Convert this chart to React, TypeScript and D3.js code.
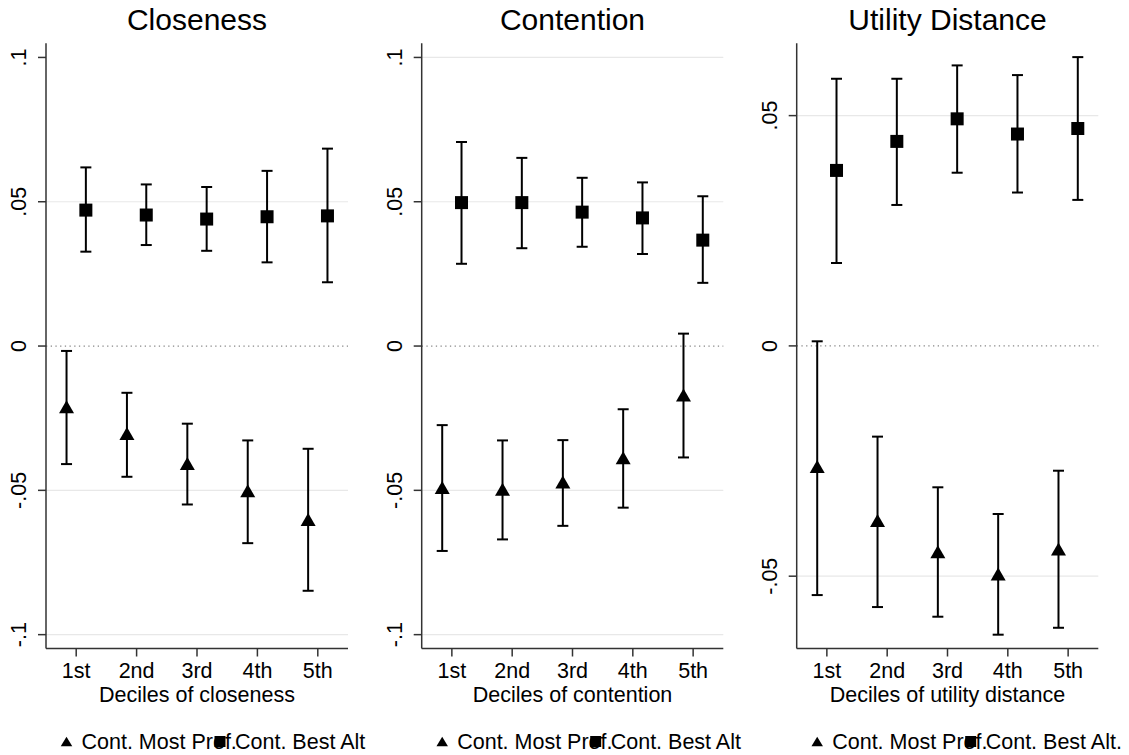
import React from "react";
import * as d3 from "d3";

const deciles = ["1st", "2nd", "3rd", "4th", "5th"];

const closenessMostPref = [-0.021, -0.0303, -0.0407, -0.0501, -0.0601];
const closenessMostPrefLo = [-0.0409, -0.0453, -0.0549, -0.0683, -0.0848];
const closenessMostPrefHi = [-0.0017, -0.0162, -0.0269, -0.0327, -0.0356];
const closenessBestAlt = [0.0471, 0.0454, 0.044, 0.0448, 0.0451];
const closenessBestAltLo = [0.0327, 0.035, 0.033, 0.029, 0.0221];
const closenessBestAltHi = [0.0619, 0.056, 0.0551, 0.0607, 0.0684];

const contentionMostPref = [-0.049, -0.0496, -0.0471, -0.0387, -0.017];
const contentionMostPrefLo = [-0.071, -0.067, -0.0623, -0.056, -0.0386];
const contentionMostPrefHi = [-0.0274, -0.0327, -0.0326, -0.0219, 0.0043];
const contentionBestAlt = [0.0497, 0.0497, 0.0464, 0.0444, 0.0367];
const contentionBestAltLo = [0.0285, 0.0339, 0.0344, 0.0319, 0.0219];
const contentionBestAltHi = [0.0707, 0.0652, 0.0583, 0.0567, 0.0519];

const utilityMostPref = [-0.0262, -0.0379, -0.0447, -0.0495, -0.0441];
const utilityMostPrefLo = [-0.0541, -0.0567, -0.0588, -0.0627, -0.0612];
const utilityMostPrefHi = [0.001, -0.0197, -0.0307, -0.0365, -0.0271];
const utilityBestAlt = [0.0381, 0.0444, 0.0493, 0.046, 0.0472];
const utilityBestAltLo = [0.018, 0.0306, 0.0376, 0.0333, 0.0317];
const utilityBestAltHi = [0.058, 0.058, 0.0609, 0.0588, 0.0627];

const ticksWide = [-0.1, -0.05, 0, 0.05, 0.1];
const ticksNarrow = [-0.05, 0, 0.05];
const tickLabel = (v: number) =>
  v === 0 ? "0" : v === 0.1 ? ".1" : v === -0.1 ? "-.1" : v === 0.05 ? ".05" : "-.05";

const panels = [
  {
    title: "Closeness",
    xTitle: "Deciles of closeness",
    left: 46, right: 348,
    yDomain: [-0.1048, 0.1049],
    yTicks: ticksWide,
    gridSkip: [0.1],
    mp: closenessMostPref, mpLo: closenessMostPrefLo, mpHi: closenessMostPrefHi,
    ba: closenessBestAlt, baLo: closenessBestAltLo, baHi: closenessBestAltHi,
    legend2: "Cont. Best Alt",
  },
  {
    title: "Contention",
    xTitle: "Deciles of contention",
    left: 421.7, right: 723.3,
    yDomain: [-0.1048, 0.1049],
    yTicks: ticksWide,
    gridSkip: [] as number[],
    mp: contentionMostPref, mpLo: contentionMostPrefLo, mpHi: contentionMostPrefHi,
    ba: contentionBestAlt, baLo: contentionBestAltLo, baHi: contentionBestAltHi,
    legend2: "Cont. Best Alt",
  },
  {
    title: "Utility Distance",
    xTitle: "Deciles of utility distance",
    left: 796.7, right: 1098.3,
    yDomain: [-0.0657, 0.0657],
    yTicks: ticksNarrow,
    gridSkip: [] as number[],
    mp: utilityMostPref, mpLo: utilityMostPrefLo, mpHi: utilityMostPrefHi,
    ba: utilityBestAlt, baLo: utilityBestAltLo, baHi: utilityBestAltHi,
    legend2: "Cont. Best Alt.",
  },
];

const TOP = 43.3;
const BOTTOM = 648.5;
const FONT = "'Liberation Sans', Arial, Helvetica, sans-serif";
const OFFSET = 0.16;

function tri(cx: number, cy: number, w: number, h: number) {
  return `M${cx},${cy - h / 2}L${cx + w / 2},${cy + h / 2}L${cx - w / 2},${cy + h / 2}Z`;
}

function Panel({ p }: { p: (typeof panels)[number] }) {
  const x = d3.scaleLinear().domain([0.5, 5.5]).range([p.left, p.right]);
  const y = d3.scaleLinear().domain(p.yDomain).range([BOTTOM, TOP]);
  const cx = (p.left + p.right) / 2;
  const capW = 11;
  return (
    <g>
      <text x={cx} y={30} textAnchor="middle" fontSize={30} fontFamily={FONT} fill="#000">
        {p.title}
      </text>
      {p.yTicks.map((t) =>
        t === 0 ? (
          <line key={t} x1={p.left} x2={p.right} y1={y(0)} y2={y(0)} stroke="#888" strokeWidth={1.2} strokeDasharray="1.3,3.4" />
        ) : p.gridSkip.includes(t) ? null : (
          <line key={t} x1={p.left} x2={p.right} y1={y(t)} y2={y(t)} stroke="#e8e8e8" strokeWidth={1.2} />
        )
      )}
      {p.mp.map((v, i) => {
        const xx = x(i + 1 - OFFSET);
        return (
          <g key={"mp" + i} stroke="#000" strokeWidth={2}>
            <line x1={xx} x2={xx} y1={y(p.mpLo[i])} y2={y(p.mpHi[i])} />
            <line x1={xx - capW / 2} x2={xx + capW / 2} y1={y(p.mpLo[i])} y2={y(p.mpLo[i])} />
            <line x1={xx - capW / 2} x2={xx + capW / 2} y1={y(p.mpHi[i])} y2={y(p.mpHi[i])} />
          </g>
        );
      })}
      {p.ba.map((v, i) => {
        const xx = x(i + 1 + OFFSET);
        return (
          <g key={"ba" + i} stroke="#000" strokeWidth={2}>
            <line x1={xx} x2={xx} y1={y(p.baLo[i])} y2={y(p.baHi[i])} />
            <line x1={xx - capW / 2} x2={xx + capW / 2} y1={y(p.baLo[i])} y2={y(p.baLo[i])} />
            <line x1={xx - capW / 2} x2={xx + capW / 2} y1={y(p.baHi[i])} y2={y(p.baHi[i])} />
          </g>
        );
      })}
      {p.mp.map((v, i) => (
        <path key={"mpm" + i} d={tri(x(i + 1 - OFFSET), y(v), 15, 13)} fill="#000" />
      ))}
      {p.ba.map((v, i) => (
        <rect key={"bam" + i} x={x(i + 1 + OFFSET) - 6.5} y={y(v) - 6.5} width={13} height={13} fill="#000" />
      ))}
      <line x1={p.left} x2={p.left} y1={TOP} y2={BOTTOM} stroke="#333" strokeWidth={1.5} />
      <line x1={p.left} x2={p.right} y1={BOTTOM} y2={BOTTOM} stroke="#333" strokeWidth={1.5} />
      {p.yTicks.map((t) => (
        <g key={"yt" + t}>
          <line x1={p.left - 8} x2={p.left} y1={y(t)} y2={y(t)} stroke="#333" strokeWidth={1.5} />
          <text
            transform={`translate(${p.left - 20},${y(t)}) rotate(-90)`}
            textAnchor="middle"
            fontSize={21.5}
            fontFamily={FONT}
            fill="#000"
          >
            {tickLabel(t)}
          </text>
        </g>
      ))}
      {deciles.map((d, i) => (
        <g key={"xt" + d}>
          <line x1={x(i + 1)} x2={x(i + 1)} y1={BOTTOM} y2={BOTTOM + 8} stroke="#333" strokeWidth={1.5} />
          <text x={x(i + 1)} y={678} textAnchor="middle" fontSize={21.5} fontFamily={FONT} fill="#000">
            {d}
          </text>
        </g>
      ))}
      <text x={cx} y={702} textAnchor="middle" fontSize={21.5} fontFamily={FONT} fill="#000">
        {p.xTitle}
      </text>
      <path d={tri(p.left + 20.5, 741.5, 11.5, 9.5)} fill="#000" />
      <text x={p.left + 35.5} y={748.5} fontSize={21.5} fontFamily={FONT} fill="#000">
        Cont. Most Pref.
      </text>
      <rect x={p.left + 174 - 5.5} y={741.5 - 5.5} width={11} height={11} fill="#000" />
      <text x={p.left + 189} y={748.5} fontSize={21.5} fontFamily={FONT} fill="#000">
        {p.legend2}
      </text>
    </g>
  );
}

export default function App() {
  return (
    <div style={{ position: "absolute", left: 0, top: 0 }}>
      <svg width={1129} height={755} style={{ display: "block", background: "#fff" }}>
        <rect width={1129} height={755} fill="#fff" />
        {panels.map((p) => (
          <Panel key={p.title} p={p} />
        ))}
      </svg>
    </div>
  );
}
